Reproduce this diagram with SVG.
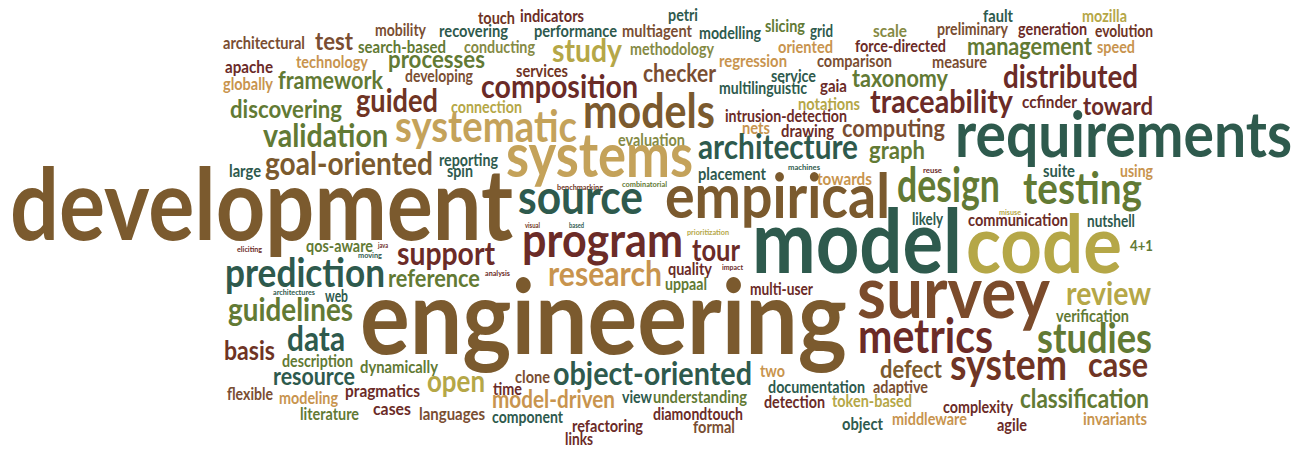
<svg xmlns="http://www.w3.org/2000/svg" width="1304" height="452" viewBox="0 0 1304 452">
<style>
text{font-family:Lato,"Open Sans","Liberation Sans",sans-serif;font-weight:700}
.br{fill:#7b5a2e}.bn{fill:#7a4e32}.rb{fill:#6f3424}.sv{fill:#7b4b2b}.dr{fill:#6b2b27}
.tl{fill:#2e5a4d}.mu{fill:#b5a747}.go{fill:#c4a25a}.tn{fill:#c8944e}.og{fill:#627a34}.ol{fill:#858a45}
</style>
<rect width="1304" height="452" fill="#ffffff"/>
<g id="words">
<text class="bn" x="223" y="49" font-size="17" textLength="82" lengthAdjust="spacingAndGlyphs">architectural</text>
<text class="bn" x="315" y="50" font-size="25" textLength="38" lengthAdjust="spacingAndGlyphs">test</text>
<text class="tn" x="296" y="68" font-size="17" textLength="72" lengthAdjust="spacingAndGlyphs">technology</text>
<text class="dr" x="225" y="73" font-size="17" textLength="48" lengthAdjust="spacingAndGlyphs">apache</text>
<text class="tn" x="223" y="90" font-size="17" textLength="50" lengthAdjust="spacingAndGlyphs">globally</text>
<text class="og" x="278" y="89" font-size="25" textLength="105" lengthAdjust="spacingAndGlyphs">framework</text>
<text class="og" x="230" y="118" font-size="25" textLength="112" lengthAdjust="spacingAndGlyphs">discovering</text>
<text class="og" x="263" y="147" font-size="33" textLength="125" lengthAdjust="spacingAndGlyphs">validation</text>
<text class="tl" x="229" y="177" font-size="17" textLength="32" lengthAdjust="spacingAndGlyphs">large</text>
<text class="br" x="265" y="175" font-size="33" textLength="168" lengthAdjust="spacingAndGlyphs">goal-oriented</text>
<text class="br" x="10" y="240" font-size="99" textLength="503" lengthAdjust="spacingAndGlyphs">development</text>
<text class="rb" x="478" y="24" font-size="17" textLength="37" lengthAdjust="spacingAndGlyphs">touch</text>
<text class="dr" x="520" y="22" font-size="17" textLength="64" lengthAdjust="spacingAndGlyphs">indicators</text>
<text class="bn" x="375" y="36" font-size="17" textLength="51" lengthAdjust="spacingAndGlyphs">mobility</text>
<text class="tl" x="439" y="37" font-size="17" textLength="69" lengthAdjust="spacingAndGlyphs">recovering</text>
<text class="tl" x="534" y="37" font-size="17" textLength="83" lengthAdjust="spacingAndGlyphs">performance</text>
<text class="bn" x="622" y="37" font-size="17" textLength="70" lengthAdjust="spacingAndGlyphs">multiagent</text>
<text class="og" x="358" y="53" font-size="17" textLength="88" lengthAdjust="spacingAndGlyphs">search-based</text>
<text class="ol" x="464" y="53" font-size="17" textLength="71" lengthAdjust="spacingAndGlyphs">conducting</text>
<text class="mu" x="552" y="62" font-size="33" textLength="70" lengthAdjust="spacingAndGlyphs">study</text>
<text class="ol" x="630" y="55" font-size="17" textLength="84" lengthAdjust="spacingAndGlyphs">methodology</text>
<text class="og" x="388" y="68" font-size="25" textLength="97" lengthAdjust="spacingAndGlyphs">processes</text>
<text class="rb" x="516" y="77" font-size="17" textLength="52" lengthAdjust="spacingAndGlyphs">services</text>
<text class="bn" x="405" y="82" font-size="17" textLength="68" lengthAdjust="spacingAndGlyphs">developing</text>
<text class="dr" x="481" y="98" font-size="33" textLength="157" lengthAdjust="spacingAndGlyphs">composition</text>
<text class="rb" x="356" y="112" font-size="33" textLength="82" lengthAdjust="spacingAndGlyphs">guided</text>
<text class="mu" x="451" y="113" font-size="17" textLength="71" lengthAdjust="spacingAndGlyphs">connection</text>
<text class="br" x="583" y="128" font-size="47" textLength="132" lengthAdjust="spacingAndGlyphs">models</text>
<text class="go" x="395" y="142" font-size="44" textLength="182" lengthAdjust="spacingAndGlyphs">systematic</text>
<text class="ol" x="618" y="146" font-size="17" textLength="67" lengthAdjust="spacingAndGlyphs">evaluation</text>
<text class="tl" x="439" y="166" font-size="17" textLength="59" lengthAdjust="spacingAndGlyphs">reporting</text>
<text class="tl" x="447" y="177" font-size="17" textLength="26" lengthAdjust="spacingAndGlyphs">spin</text>
<text class="go" x="506" y="177" font-size="61" textLength="187" lengthAdjust="spacingAndGlyphs">systems</text>
<text class="rb" x="557" y="190" font-size="8.4" textLength="46" lengthAdjust="spacingAndGlyphs">benchmarking</text>
<text class="og" x="622" y="187" font-size="8.4" textLength="45" lengthAdjust="spacingAndGlyphs">combinatorial</text>
<text class="tl" x="518" y="214" font-size="48" textLength="125" lengthAdjust="spacingAndGlyphs">source</text>
<text class="rb" x="525" y="228" font-size="7" textLength="15" lengthAdjust="spacingAndGlyphs">visual</text>
<text class="tl" x="569" y="228" font-size="7" textLength="15" lengthAdjust="spacingAndGlyphs">based</text>
<text class="tl" x="668" y="21" font-size="17" textLength="30" lengthAdjust="spacingAndGlyphs">petri</text>
<text class="tl" x="699" y="39" font-size="17" textLength="62" lengthAdjust="spacingAndGlyphs">modelling</text>
<text class="og" x="765" y="32" font-size="17" textLength="40" lengthAdjust="spacingAndGlyphs">slicing</text>
<text class="tl" x="810" y="37" font-size="17" textLength="23" lengthAdjust="spacingAndGlyphs">grid</text>
<text class="ol" x="873" y="37" font-size="17" textLength="34" lengthAdjust="spacingAndGlyphs">scale</text>
<text class="bn" x="937" y="35" font-size="17" textLength="71" lengthAdjust="spacingAndGlyphs">preliminary</text>
<text class="tn" x="778" y="53" font-size="17" textLength="55" lengthAdjust="spacingAndGlyphs">oriented</text>
<text class="dr" x="855" y="52" font-size="17" textLength="91" lengthAdjust="spacingAndGlyphs">force-directed</text>
<text class="tn" x="719" y="67" font-size="17" textLength="68" lengthAdjust="spacingAndGlyphs">regression</text>
<text class="bn" x="817" y="67" font-size="17" textLength="75" lengthAdjust="spacingAndGlyphs">comparison</text>
<text class="bn" x="932" y="68" font-size="17" textLength="55" lengthAdjust="spacingAndGlyphs">measure</text>
<text class="bn" x="643" y="82" font-size="25" textLength="73" lengthAdjust="spacingAndGlyphs">checker</text>
<text class="tl" x="771" y="82" font-size="17" textLength="45" lengthAdjust="spacingAndGlyphs">service</text>
<text class="og" x="852" y="87" font-size="25" textLength="96" lengthAdjust="spacingAndGlyphs">taxonomy</text>
<text class="tl" x="719" y="94" font-size="17" textLength="88" lengthAdjust="spacingAndGlyphs">multilinguistic</text>
<text class="dr" x="820" y="92" font-size="17" textLength="27" lengthAdjust="spacingAndGlyphs">gaia</text>
<text class="mu" x="798" y="110" font-size="17" textLength="62" lengthAdjust="spacingAndGlyphs">notations</text>
<text class="dr" x="870" y="113" font-size="33" textLength="143" lengthAdjust="spacingAndGlyphs">traceability</text>
<text class="dr" x="725" y="122" font-size="17" textLength="122" lengthAdjust="spacingAndGlyphs">intrusion-detection</text>
<text class="dr" x="1022" y="108" font-size="17" textLength="55" lengthAdjust="spacingAndGlyphs">ccfinder</text>
<text class="dr" x="1083" y="115" font-size="25" textLength="70" lengthAdjust="spacingAndGlyphs">toward</text>
<text class="dr" x="1003" y="88" font-size="33" textLength="135" lengthAdjust="spacingAndGlyphs">distributed</text>
<text class="og" x="967" y="55" font-size="25" textLength="125" lengthAdjust="spacingAndGlyphs">management</text>
<text class="tn" x="1097" y="53" font-size="17" textLength="38" lengthAdjust="spacingAndGlyphs">speed</text>
<text class="tl" x="983" y="22" font-size="17" textLength="30" lengthAdjust="spacingAndGlyphs">fault</text>
<text class="mu" x="1082" y="22" font-size="17" textLength="45" lengthAdjust="spacingAndGlyphs">mozilla</text>
<text class="dr" x="1018" y="35" font-size="17" textLength="69" lengthAdjust="spacingAndGlyphs">generation</text>
<text class="rb" x="1095" y="37" font-size="17" textLength="58" lengthAdjust="spacingAndGlyphs">evolution</text>
<text class="tn" x="742" y="134" font-size="17" textLength="28" lengthAdjust="spacingAndGlyphs">nets</text>
<text class="dr" x="781" y="137" font-size="17" textLength="53" lengthAdjust="spacingAndGlyphs">drawing</text>
<text class="bn" x="842" y="137" font-size="25" textLength="103" lengthAdjust="spacingAndGlyphs">computing</text>
<text class="tl" x="698" y="159" font-size="34" textLength="160" lengthAdjust="spacingAndGlyphs">architecture</text>
<text class="og" x="869" y="159" font-size="25" textLength="56" lengthAdjust="spacingAndGlyphs">graph</text>
<text class="tl" x="788" y="170" font-size="8.4" textLength="32" lengthAdjust="spacingAndGlyphs">machines</text>
<text class="dr" x="923" y="173" font-size="8.4" textLength="19" lengthAdjust="spacingAndGlyphs">reuse</text>
<text class="tl" x="698" y="180" font-size="17" textLength="68" lengthAdjust="spacingAndGlyphs">placement</text>
<text class="tn" x="817" y="185" font-size="17" textLength="55" lengthAdjust="spacingAndGlyphs">towards</text>
<text class="og" x="897" y="202" font-size="47" textLength="103" lengthAdjust="spacingAndGlyphs">design</text>
<text class="br" x="665" y="218" font-size="61" textLength="225" lengthAdjust="spacingAndGlyphs">empirical</text>
<text class="tl" x="955" y="157" font-size="64" textLength="337" lengthAdjust="spacingAndGlyphs">requirements</text>
<text class="tl" x="1043" y="177" font-size="17" textLength="32" lengthAdjust="spacingAndGlyphs">suite</text>
<text class="tn" x="1120" y="177" font-size="17" textLength="33" lengthAdjust="spacingAndGlyphs">using</text>
<text class="og" x="1023" y="204" font-size="43" textLength="119" lengthAdjust="spacingAndGlyphs">testing</text>
<text class="tl" x="912" y="225" font-size="17" textLength="31" lengthAdjust="spacingAndGlyphs">likely</text>
<text class="mu" x="999" y="215" font-size="8.4" textLength="22" lengthAdjust="spacingAndGlyphs">misuse</text>
<text class="dr" x="968" y="226" font-size="17" textLength="100" lengthAdjust="spacingAndGlyphs">communication</text>
<text class="tl" x="1087" y="227" font-size="17" textLength="48" lengthAdjust="spacingAndGlyphs">nutshell</text>
<text class="tl" x="752" y="273" font-size="88" textLength="210" lengthAdjust="spacingAndGlyphs">model</text>
<text class="mu" x="966" y="273" font-size="80" textLength="156" lengthAdjust="spacingAndGlyphs">code</text>
<text class="dr" x="237" y="252" font-size="8.4" textLength="25" lengthAdjust="spacingAndGlyphs">eliciting</text>
<text class="og" x="306" y="252" font-size="17" textLength="67" lengthAdjust="spacingAndGlyphs">qos-aware</text>
<text class="dr" x="378" y="248" font-size="8" textLength="10" lengthAdjust="spacingAndGlyphs">java</text>
<text class="tl" x="358" y="258" font-size="8.4" textLength="24" lengthAdjust="spacingAndGlyphs">moving</text>
<text class="tl" x="225" y="287" font-size="40" textLength="160" lengthAdjust="spacingAndGlyphs">prediction</text>
<text class="tl" x="273" y="295" font-size="8.4" textLength="42" lengthAdjust="spacingAndGlyphs">architectures</text>
<text class="tl" x="325" y="302" font-size="17" textLength="23" lengthAdjust="spacingAndGlyphs">web</text>
<text class="og" x="228" y="321" font-size="33" textLength="125" lengthAdjust="spacingAndGlyphs">guidelines</text>
<text class="rb" x="224" y="360" font-size="26" textLength="51" lengthAdjust="spacingAndGlyphs">basis</text>
<text class="tl" x="287" y="351" font-size="34" textLength="58" lengthAdjust="spacingAndGlyphs">data</text>
<text class="og" x="282" y="367" font-size="17" textLength="71" lengthAdjust="spacingAndGlyphs">description</text>
<text class="tl" x="273" y="385" font-size="25" textLength="82" lengthAdjust="spacingAndGlyphs">resource</text>
<text class="bn" x="227" y="400" font-size="17" textLength="46" lengthAdjust="spacingAndGlyphs">flexible</text>
<text class="tn" x="279" y="404" font-size="17" textLength="59" lengthAdjust="spacingAndGlyphs">modeling</text>
<text class="og" x="300" y="420" font-size="17" textLength="59" lengthAdjust="spacingAndGlyphs">literature</text>
<text class="dr" x="397" y="265" font-size="33" textLength="98" lengthAdjust="spacingAndGlyphs">support</text>
<text class="dr" x="522" y="257" font-size="48" textLength="161" lengthAdjust="spacingAndGlyphs">program</text>
<text class="dr" x="692" y="261" font-size="30" textLength="48" lengthAdjust="spacingAndGlyphs">tour</text>
<text class="mu" x="687" y="235" font-size="8.4" textLength="42" lengthAdjust="spacingAndGlyphs">prioritization</text>
<text class="og" x="388" y="287" font-size="25" textLength="92" lengthAdjust="spacingAndGlyphs">reference</text>
<text class="dr" x="485" y="276" font-size="8.4" textLength="25" lengthAdjust="spacingAndGlyphs">analysis</text>
<text class="tn" x="548" y="286" font-size="34" textLength="114" lengthAdjust="spacingAndGlyphs">research</text>
<text class="dr" x="668" y="275" font-size="17" textLength="44" lengthAdjust="spacingAndGlyphs">quality</text>
<text class="dr" x="722" y="270" font-size="8.4" textLength="21" lengthAdjust="spacingAndGlyphs">impact</text>
<text class="og" x="665" y="290" font-size="17" textLength="42" lengthAdjust="spacingAndGlyphs">uppaal</text>
<text class="dr" x="750" y="295" font-size="17" textLength="63" lengthAdjust="spacingAndGlyphs">multi-user</text>
<text class="sv" x="857" y="318" font-size="72" textLength="193" lengthAdjust="spacingAndGlyphs">survey</text>
<text class="mu" x="1066" y="305" font-size="33" textLength="85" lengthAdjust="spacingAndGlyphs">review</text>
<text class="og" x="1130" y="251" font-size="16" textLength="23" lengthAdjust="spacingAndGlyphs">4+1</text>
<text class="og" x="1056" y="322" font-size="17" textLength="73" lengthAdjust="spacingAndGlyphs">verification</text>
<text class="og" x="1037" y="353" font-size="42" textLength="115" lengthAdjust="spacingAndGlyphs">studies</text>
<text class="rb" x="1088" y="377" font-size="34" textLength="60" lengthAdjust="spacingAndGlyphs">case</text>
<text class="rb" x="950" y="380" font-size="43" textLength="117" lengthAdjust="spacingAndGlyphs">system</text>
<text class="og" x="1020" y="408" font-size="26" textLength="129" lengthAdjust="spacingAndGlyphs">classification</text>
<text class="dr" x="943" y="413" font-size="17" textLength="70" lengthAdjust="spacingAndGlyphs">complexity</text>
<text class="tn" x="1083" y="425" font-size="17" textLength="64" lengthAdjust="spacingAndGlyphs">invariants</text>
<text class="dr" x="997" y="431" font-size="17" textLength="30" lengthAdjust="spacingAndGlyphs">agile</text>
<text class="tn" x="892" y="425" font-size="17" textLength="75" lengthAdjust="spacingAndGlyphs">middleware</text>
<text class="tl" x="842" y="430" font-size="17" textLength="41" lengthAdjust="spacingAndGlyphs">object</text>
<text class="br" x="880" y="378" font-size="25" textLength="62" lengthAdjust="spacingAndGlyphs">defect</text>
<text class="bn" x="873" y="393" font-size="17" textLength="55" lengthAdjust="spacingAndGlyphs">adaptive</text>
<text class="mu" x="832" y="407" font-size="17" textLength="80" lengthAdjust="spacingAndGlyphs">token-based</text>
<text class="tl" x="768" y="393" font-size="17" textLength="97" lengthAdjust="spacingAndGlyphs">documentation</text>
<text class="dr" x="764" y="408" font-size="17" textLength="61" lengthAdjust="spacingAndGlyphs">detection</text>
<text class="tn" x="760" y="377" font-size="17" textLength="25" lengthAdjust="spacingAndGlyphs">two</text>
<text class="og" x="653" y="403" font-size="17" textLength="94" lengthAdjust="spacingAndGlyphs">understanding</text>
<text class="tl" x="622" y="403" font-size="17" textLength="30" lengthAdjust="spacingAndGlyphs">view</text>
<text class="dr" x="653" y="420" font-size="17" textLength="90" lengthAdjust="spacingAndGlyphs">diamondtouch</text>
<text class="bn" x="693" y="433" font-size="17" textLength="42" lengthAdjust="spacingAndGlyphs">formal</text>
<text class="dr" x="572" y="432" font-size="17" textLength="71" lengthAdjust="spacingAndGlyphs">refactoring</text>
<text class="dr" x="565" y="445" font-size="17" textLength="28" lengthAdjust="spacingAndGlyphs">links</text>
<text class="tl" x="492" y="423" font-size="17" textLength="71" lengthAdjust="spacingAndGlyphs">component</text>
<text class="bn" x="419" y="420" font-size="17" textLength="66" lengthAdjust="spacingAndGlyphs">languages</text>
<text class="dr" x="373" y="415" font-size="17" textLength="38" lengthAdjust="spacingAndGlyphs">cases</text>
<text class="dr" x="345" y="397" font-size="17" textLength="75" lengthAdjust="spacingAndGlyphs">pragmatics</text>
<text class="og" x="360" y="373" font-size="17" textLength="78" lengthAdjust="spacingAndGlyphs">dynamically</text>
<text class="mu" x="427" y="392" font-size="30" textLength="58" lengthAdjust="spacingAndGlyphs">open</text>
<text class="dr" x="493" y="395" font-size="17" textLength="29" lengthAdjust="spacingAndGlyphs">time</text>
<text class="bn" x="515" y="383" font-size="17" textLength="35" lengthAdjust="spacingAndGlyphs">clone</text>
<text class="tl" x="553" y="385" font-size="33" textLength="199" lengthAdjust="spacingAndGlyphs">object-oriented</text>
<text class="tn" x="492" y="408" font-size="25" textLength="123" lengthAdjust="spacingAndGlyphs">model-driven</text>
<text class="br" x="360" y="354" font-size="104" textLength="487" lengthAdjust="spacingAndGlyphs">engineering</text>
<text class="dr" x="858" y="353" font-size="47" textLength="135" lengthAdjust="spacingAndGlyphs">metrics</text>
</g>
</svg>
